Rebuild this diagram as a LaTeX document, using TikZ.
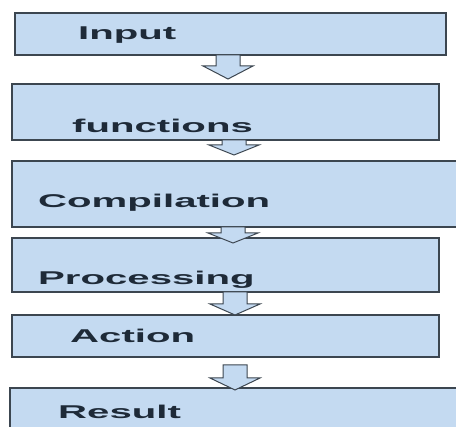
\documentclass[tikz,border=0pt]{standalone}
\usepackage{fontspec}
\usepackage{graphicx}
\setmainfont{Liberation Sans}
\definecolor{boxfill}{HTML}{C4DAF1}
\definecolor{boxline}{HTML}{3C4650}
\definecolor{txt}{HTML}{1E2A38}
\tikzset{
  stepbox/.style={fill=boxfill, draw=boxline, line width=1.3pt},
  openbox/.style={fill=boxfill},
  lbl/.style={anchor=base west, inner sep=0pt, text=txt,
    font=\fontsize{18.5}{20}\selectfont\bfseries},
  flowarrow/.style={fill=boxfill, draw=boxline, line width=1pt, line join=miter},
}
\newcommand{\wide}[1]{\scalebox{2.17}[1]{#1}}
\begin{document}
\begin{tikzpicture}[x=1pt,y=-1pt]
\useasboundingbox (0,0) rectangle (456,427);
% boxes
\path[stepbox] (15,13) rectangle (446,55);
\path[stepbox] (12,84) rectangle (439,140);
\path[openbox] (12,161) rectangle (456,227);
\draw[boxline, line width=1.3pt] (456,161) -- (12,161) -- (12,227) -- (456,227);
\path[stepbox] (12,238) rectangle (439,292);
\path[stepbox] (12,315) rectangle (439,357);
\path[openbox] (10,388) rectangle (456,427);
\draw[boxline, line width=1.3pt] (456,388) -- (10,388) -- (10,427);
% labels
\node[lbl] (t1) at (78,40) {\wide{Input}};
\node[lbl] (t2) at (72,133) {\wide{functions}};
\node[lbl] (t3) at (38,208) {\wide{Compilation}};
\node[lbl] (t4) at (38,285) {\wide{Processing}};
\node[lbl] (t5) at (70,343) {\wide{Action}};
\node[lbl] (t6) at (58,419) {\wide{Result}};
% block arrows
\foreach \cx/\top/\base/\tip in {228/55/66/79, 234/140/145/155, 233/227/233/243, 235/292/304/315, 235/365/378/390}{
  \path[flowarrow] (\cx-12,\top) -- (\cx-12,\base) -- (\cx-25,\base) -- (\cx,\tip)
     -- (\cx+25,\base) -- (\cx+12,\base) -- (\cx+12,\top) -- cycle;
}
\end{tikzpicture}
\end{document}
